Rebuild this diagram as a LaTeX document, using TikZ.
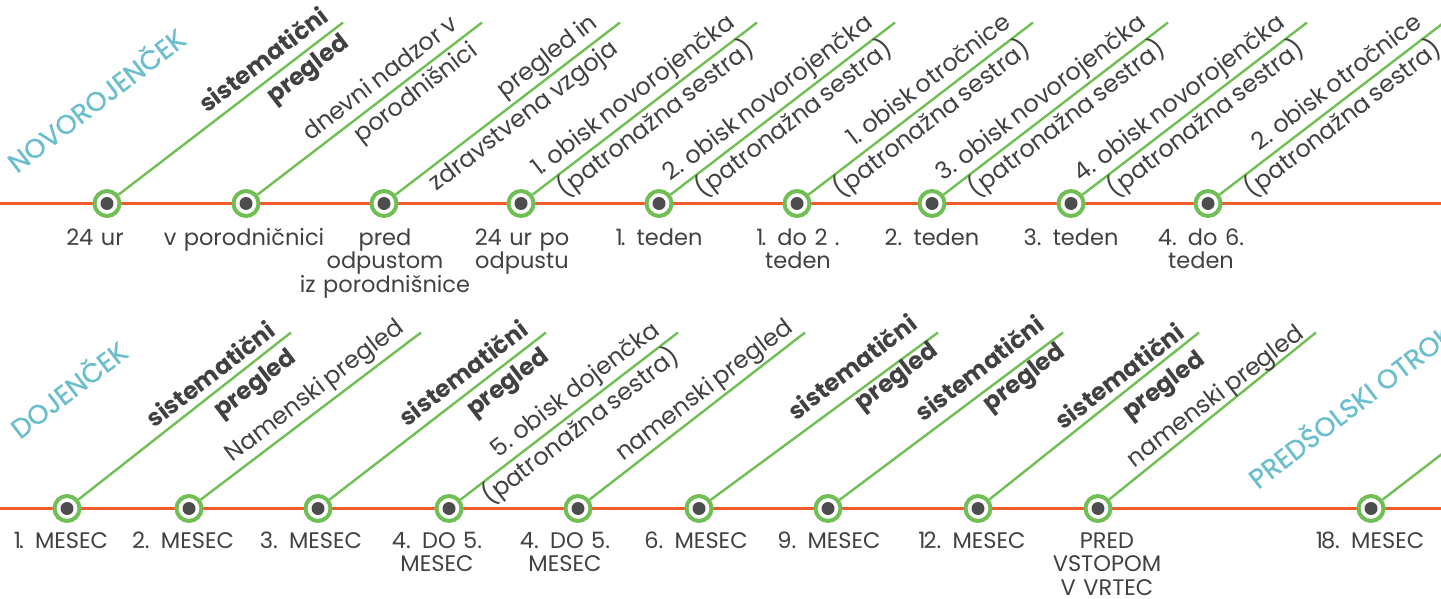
\documentclass[tikz,border=0pt]{standalone}
\usepackage{fontspec}
\setmainfont{Poppins}[Numbers=Proportional, WordSpace=0.75]
\newfontfamily\headfont{Poppins}[FakeBold=0.8]
\usetikzlibrary{calc}
\definecolor{lineorange}{RGB}{241,90,41}
\definecolor{ringgreen}{RGB}{112,191,84}
\definecolor{dotgray}{RGB}{77,77,79}
\definecolor{textgray}{RGB}{65,64,66}
\definecolor{headteal}{RGB}{107,190,203}
\newcommand\onek{1\kern-2pt}
\tikzset{
  timeline/.style={draw=lineorange, line width=3pt},
  branch/.style={draw=ringgreen, line width=2.4pt},
  stopnode/.style={circle, draw=ringgreen, line width=4pt, fill=white,
    minimum size=25pt, inner sep=0pt,
    path picture={\fill[dotgray] (path picture bounding box.center) circle (6.5pt);}},
  when/.style={text=textgray, font=\fontsize{22.5}{23.5}\selectfont,
    text width=220pt, align=center, inner sep=0pt, anchor=base},
  tag/.style={text=textgray, font=\fontsize{24}{26}\selectfont,
    inner sep=0pt, anchor=base east, rotate=37.5},
  tagb/.style={tag, font=\fontsize{24}{26}\selectfont\bfseries},
  head/.style={text=headteal, font=\headfont\fontsize{27}{30}\selectfont,
    inner sep=0pt, anchor=base west, rotate=37.5},
}
% stop: name, x, y, dx, dy
\newcommand\mkstop[5]{%
  \node[stopnode] (#1) at (#2,#3) {};
  \coordinate (#1e) at ($(#1.center)+(#4,-#5)$);
  \draw[branch] (#1) -- (#1e);
}
% two-line tag: name, along, style, above, below
\newcommand\twotag[5]{%
  \node[#3] (#1a) at ($(#1.center)+({0.7934*#2-0.6088*10},{-0.6088*#2-0.7934*10})$) {#4};
  \node[#3] (#1b) at ($(#1.center)+({0.7934*#2+0.6088*23},{-0.6088*#2+0.7934*23})$) {#5};
}
\newcommand\onetag[3]{%
  \node[tag] (#1a) at ($(#1.center)+({0.7934*#2-0.6088*10},{-0.6088*#2-0.7934*10})$) {#3};
}
\newcommand\when[4]{%
  \node[when] (#1w) at (#2,#3) {#4};
}
\begin{document}
\begin{tikzpicture}[x=1pt,y=-1pt]
\path[use as bounding box] (0,0) rectangle (1441,599);
\clip (0,0) rectangle (1441,599);
% timelines
\coordinate (tl0) at (0,203.5);
\coordinate (tl1) at (1441,203.5);
\coordinate (bl0) at (0,508.5);
\coordinate (bl1) at (1441,508.5);
\draw[timeline] (tl0) -- (tl1);
\draw[timeline] (bl0) -- (bl1);
% headings
\node[head] (hnov) at (17,174) {NOVOROJENČEK};
\node[head] (hdoj) at (20,440) {DOJENČEK};
\node[head] (hpre) at (1258,490) {PREDŠOLSKI OTROK};
% top row
\mkstop{t1}{107}{203.5}{236}{181}
\mkstop{t2}{246}{203.5}{236}{181}
\mkstop{t3}{384}{203.5}{236}{181}
\mkstop{t4}{521}{203.5}{236}{181}
\mkstop{t5}{659}{203.5}{236}{181}
\mkstop{t6}{797}{203.5}{236}{181}
\mkstop{t7}{932}{203.5}{236}{181}
\mkstop{t8}{1071}{203.5}{236}{181}
\mkstop{t9}{1208}{203.5}{236}{181}
\twotag{t1}{289}{tagb}{sistematični}{pregled}
\twotag{t2}{276}{tag}{dnevni nadzor v}{porodnišnici}
\twotag{t3}{279}{tag}{pregled in}{zdravstvena vzgoja}
\twotag{t4}{279}{tag}{\onek. obisk novorojenčka}{(patronažna sestra)}
\twotag{t5}{279}{tag}{2. obisk novorojenčka}{(patronažna sestra)}
\twotag{t6}{279}{tag}{\onek. obisk otročnice}{(patronažna sestra)}
\twotag{t7}{279}{tag}{3. obisk novorojenčka}{(patronažna sestra)}
\twotag{t8}{279}{tag}{4. obisk novorojenčka}{(patronažna sestra)}
\twotag{t9}{279}{tag}{2. obisk otročnice}{(patronažna sestra)}
\when{t1}{95}{245}{24 ur}
\when{t2}{244}{245}{v porodničnici}
\when{t3}{385}{245}{pred\\odpustom\\iz porodnišnice}
\when{t4}{522}{245}{24 ur po\\odpustu}
\when{t5}{659}{245}{\onek. teden}
\when{t6}{798}{245}{\onek. do 2 .\\teden}
\when{t7}{932}{245}{2. teden}
\when{t8}{1071}{245}{3. teden}
\when{t9}{1201}{245}{4. do 6.\\teden}
% bottom row
\mkstop{b1}{67}{508.5}{224}{176}
\mkstop{b2}{189}{508.5}{232}{176}
\mkstop{b3}{318}{508.5}{228}{176}
\mkstop{b4}{449}{508.5}{229}{176}
\mkstop{b5}{578}{508.5}{227}{176}
\mkstop{b6}{699}{508.5}{239}{176}
\mkstop{b7}{828}{508.5}{235}{176}
\mkstop{b8}{978}{508.5}{221}{176}
\mkstop{b9}{1098}{508.5}{218}{176}
\mkstop{b10}{1371}{508.5}{229}{176}
\twotag{b1}{273}{tagb}{sistematični}{pregled}
\onetag{b2}{280}{Namenski pregled}
\twotag{b3}{275}{tagb}{sistematični}{pregled}
\twotag{b4}{275}{tag}{5. obisk dojenčka}{(patronažna sestra)}
\onetag{b5}{280}{namenski pregled}
\twotag{b6}{285}{tagb}{sistematični}{pregled}
\twotag{b7}{283}{tagb}{sistematični}{pregled}
\twotag{b8}{270}{tagb}{sistematični}{pregled}
\onetag{b9}{269}{namenski pregled}
\when{b1}{61}{548}{\onek. MESEC}
\when{b2}{183}{548}{2. MESEC}
\when{b3}{311}{548}{3. MESEC}
\when{b4}{437}{548}{4. DO 5.\\MESEC}
\when{b5}{565}{548}{4. DO 5.\\MESEC}
\when{b6}{696}{548}{6. MESEC}
\when{b7}{829}{548}{9. MESEC}
\when{b8}{972}{548}{\onek2. MESEC}
\when{b9}{1107}{548}{PRED\\VSTOPOM\\V VRTEC}
\when{b10}{1370}{548}{\onek8. MESEC}
\end{tikzpicture}
\end{document}
